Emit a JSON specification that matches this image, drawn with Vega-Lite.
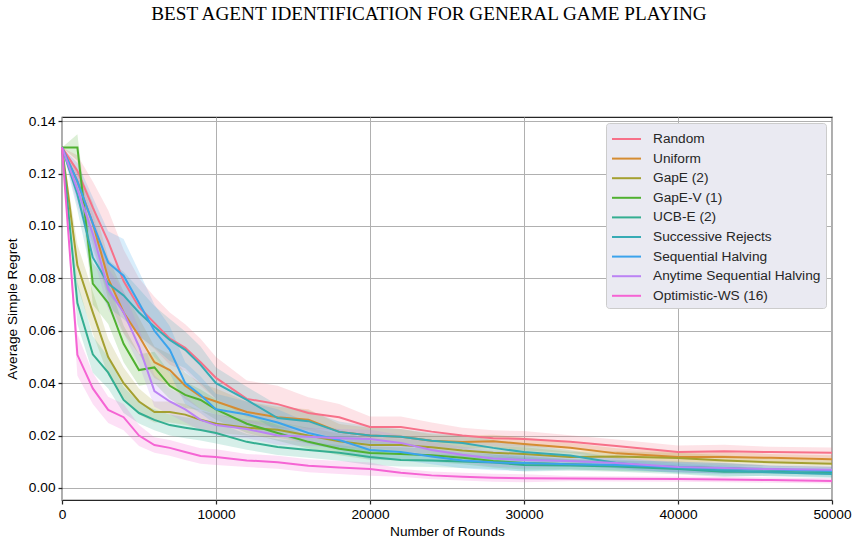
{
"$schema": "https://vega.github.io/schema/vega-lite/v6.json",
"width": 770, "height": 383,
"autosize": {"type": "none"},
"padding": {"left": 62, "top": 117, "right": 26, "bottom": 45},
"background": "white",
"title": {"text": "BEST AGENT IDENTIFICATION FOR GENERAL GAME PLAYING", "anchor": "middle", "offset": 90, "dx": -18, "font": "Liberation Serif", "fontSize": 19.2, "fontWeight": "normal", "color": "#000000"},
"config": {
  "view": {"stroke": "#262626", "strokeWidth": 1.25},
  "axis": {"labelFont": "Liberation Sans", "labelFontSize": 13.7, "labelColor": "#000000", "titleFont": "Liberation Sans", "titleFontSize": 13.7, "titleFontWeight": "normal", "titleColor": "#000000", "domain": false, "tickColor": "#262626", "tickSize": 4, "tickWidth": 1.25, "gridColor": "#b0b0b0", "gridWidth": 1, "gridOpacity": 1, "labelFlush": false, "labelOverlap": false, "labelPadding": 3},
  "legend": {"labelFont": "Liberation Sans", "labelFontSize": 13.7, "labelColor": "#262626", "labelLimit": 300}
},
"datasets": {"d": [
{"agent":"Random","rounds":0,"regret":0.130,"lo":0.130,"hi":0.130},
{"agent":"Random","rounds":1000,"regret":0.121,"lo":0.115,"hi":0.127},
{"agent":"Random","rounds":2000,"regret":0.107,"lo":0.097,"hi":0.117},
{"agent":"Random","rounds":3000,"regret":0.094,"lo":0.082,"hi":0.106},
{"agent":"Random","rounds":4000,"regret":0.079,"lo":0.067,"hi":0.091},
{"agent":"Random","rounds":5000,"regret":0.069,"lo":0.058,"hi":0.080},
{"agent":"Random","rounds":6000,"regret":0.063,"lo":0.053,"hi":0.073},
{"agent":"Random","rounds":7000,"regret":0.057,"lo":0.047,"hi":0.067},
{"agent":"Random","rounds":8000,"regret":0.0535,"lo":0.0445,"hi":0.0625},
{"agent":"Random","rounds":9000,"regret":0.048,"lo":0.039,"hi":0.057},
{"agent":"Random","rounds":10000,"regret":0.042,"lo":0.034,"hi":0.050},
{"agent":"Random","rounds":12000,"regret":0.034,"lo":0.027,"hi":0.041},
{"agent":"Random","rounds":14000,"regret":0.032,"lo":0.025,"hi":0.039},
{"agent":"Random","rounds":16000,"regret":0.0286,"lo":0.0226,"hi":0.0346},
{"agent":"Random","rounds":18000,"regret":0.027,"lo":0.022,"hi":0.032},
{"agent":"Random","rounds":20000,"regret":0.0233,"lo":0.0193,"hi":0.0273},
{"agent":"Random","rounds":22000,"regret":0.0233,"lo":0.0193,"hi":0.0273},
{"agent":"Random","rounds":24000,"regret":0.0215,"lo":0.018,"hi":0.025},
{"agent":"Random","rounds":26000,"regret":0.020,"lo":0.017,"hi":0.023},
{"agent":"Random","rounds":28000,"regret":0.019,"lo":0.016,"hi":0.022},
{"agent":"Random","rounds":30000,"regret":0.0187,"lo":0.0157,"hi":0.0217},
{"agent":"Random","rounds":33000,"regret":0.0176,"lo":0.0151,"hi":0.0201},
{"agent":"Random","rounds":36000,"regret":0.016,"lo":0.0135,"hi":0.0185},
{"agent":"Random","rounds":40000,"regret":0.0137,"lo":0.0112,"hi":0.0162},
{"agent":"Random","rounds":43000,"regret":0.014,"lo":0.0115,"hi":0.0165},
{"agent":"Random","rounds":46000,"regret":0.0137,"lo":0.0117,"hi":0.0157},
{"agent":"Random","rounds":50000,"regret":0.0134,"lo":0.0114,"hi":0.0154},
{"agent":"Uniform","rounds":0,"regret":0.130,"lo":0.130,"hi":0.130},
{"agent":"Uniform","rounds":1000,"regret":0.117,"lo":0.112,"hi":0.122},
{"agent":"Uniform","rounds":2000,"regret":0.101,"lo":0.093,"hi":0.109},
{"agent":"Uniform","rounds":3000,"regret":0.080,"lo":0.072,"hi":0.088},
{"agent":"Uniform","rounds":4000,"regret":0.067,"lo":0.059,"hi":0.075},
{"agent":"Uniform","rounds":5000,"regret":0.058,"lo":0.051,"hi":0.065},
{"agent":"Uniform","rounds":6000,"regret":0.048,"lo":0.042,"hi":0.054},
{"agent":"Uniform","rounds":7000,"regret":0.045,"lo":0.039,"hi":0.051},
{"agent":"Uniform","rounds":8000,"regret":0.039,"lo":0.034,"hi":0.044},
{"agent":"Uniform","rounds":9000,"regret":0.035,"lo":0.030,"hi":0.040},
{"agent":"Uniform","rounds":10000,"regret":0.033,"lo":0.028,"hi":0.038},
{"agent":"Uniform","rounds":12000,"regret":0.029,"lo":0.025,"hi":0.033},
{"agent":"Uniform","rounds":14000,"regret":0.027,"lo":0.023,"hi":0.031},
{"agent":"Uniform","rounds":16000,"regret":0.026,"lo":0.022,"hi":0.030},
{"agent":"Uniform","rounds":18000,"regret":0.0214,"lo":0.0184,"hi":0.0244},
{"agent":"Uniform","rounds":20000,"regret":0.020,"lo":0.017,"hi":0.023},
{"agent":"Uniform","rounds":22000,"regret":0.0195,"lo":0.0165,"hi":0.0225},
{"agent":"Uniform","rounds":24000,"regret":0.018,"lo":0.0155,"hi":0.0205},
{"agent":"Uniform","rounds":26000,"regret":0.0175,"lo":0.015,"hi":0.020},
{"agent":"Uniform","rounds":28000,"regret":0.0178,"lo":0.0153,"hi":0.0203},
{"agent":"Uniform","rounds":30000,"regret":0.0168,"lo":0.0143,"hi":0.0193},
{"agent":"Uniform","rounds":33000,"regret":0.0153,"lo":0.0133,"hi":0.0173},
{"agent":"Uniform","rounds":36000,"regret":0.0132,"lo":0.0112,"hi":0.0152},
{"agent":"Uniform","rounds":40000,"regret":0.0118,"lo":0.0098,"hi":0.0138},
{"agent":"Uniform","rounds":43000,"regret":0.0118,"lo":0.0098,"hi":0.0138},
{"agent":"Uniform","rounds":46000,"regret":0.0115,"lo":0.010,"hi":0.013},
{"agent":"Uniform","rounds":50000,"regret":0.011,"lo":0.0095,"hi":0.0125},
{"agent":"GapE (2)","rounds":0,"regret":0.130,"lo":0.130,"hi":0.130},
{"agent":"GapE (2)","rounds":1000,"regret":0.085,"lo":0.077,"hi":0.093},
{"agent":"GapE (2)","rounds":2000,"regret":0.067,"lo":0.059,"hi":0.075},
{"agent":"GapE (2)","rounds":3000,"regret":0.050,"lo":0.043,"hi":0.057},
{"agent":"GapE (2)","rounds":4000,"regret":0.040,"lo":0.034,"hi":0.046},
{"agent":"GapE (2)","rounds":5000,"regret":0.033,"lo":0.028,"hi":0.038},
{"agent":"GapE (2)","rounds":6000,"regret":0.029,"lo":0.025,"hi":0.033},
{"agent":"GapE (2)","rounds":7000,"regret":0.029,"lo":0.025,"hi":0.033},
{"agent":"GapE (2)","rounds":8000,"regret":0.028,"lo":0.024,"hi":0.032},
{"agent":"GapE (2)","rounds":9000,"regret":0.026,"lo":0.0225,"hi":0.0295},
{"agent":"GapE (2)","rounds":10000,"regret":0.0245,"lo":0.021,"hi":0.028},
{"agent":"GapE (2)","rounds":12000,"regret":0.023,"lo":0.020,"hi":0.026},
{"agent":"GapE (2)","rounds":14000,"regret":0.0222,"lo":0.0192,"hi":0.0252},
{"agent":"GapE (2)","rounds":16000,"regret":0.020,"lo":0.017,"hi":0.023},
{"agent":"GapE (2)","rounds":18000,"regret":0.0178,"lo":0.0148,"hi":0.0208},
{"agent":"GapE (2)","rounds":20000,"regret":0.0164,"lo":0.0134,"hi":0.0194},
{"agent":"GapE (2)","rounds":22000,"regret":0.0164,"lo":0.0139,"hi":0.0189},
{"agent":"GapE (2)","rounds":24000,"regret":0.0155,"lo":0.013,"hi":0.018},
{"agent":"GapE (2)","rounds":26000,"regret":0.0143,"lo":0.0118,"hi":0.0168},
{"agent":"GapE (2)","rounds":28000,"regret":0.0134,"lo":0.0109,"hi":0.0159},
{"agent":"GapE (2)","rounds":30000,"regret":0.013,"lo":0.0105,"hi":0.0155},
{"agent":"GapE (2)","rounds":33000,"regret":0.0118,"lo":0.0098,"hi":0.0138},
{"agent":"GapE (2)","rounds":36000,"regret":0.012,"lo":0.010,"hi":0.014},
{"agent":"GapE (2)","rounds":40000,"regret":0.0114,"lo":0.0094,"hi":0.0134},
{"agent":"GapE (2)","rounds":43000,"regret":0.0105,"lo":0.0085,"hi":0.0125},
{"agent":"GapE (2)","rounds":46000,"regret":0.0098,"lo":0.0083,"hi":0.0113},
{"agent":"GapE (2)","rounds":50000,"regret":0.0092,"lo":0.0077,"hi":0.0107},
{"agent":"GapE-V (1)","rounds":0,"regret":0.130,"lo":0.130,"hi":0.130},
{"agent":"GapE-V (1)","rounds":1000,"regret":0.130,"lo":0.125,"hi":0.135},
{"agent":"GapE-V (1)","rounds":2000,"regret":0.078,"lo":0.070,"hi":0.086},
{"agent":"GapE-V (1)","rounds":3000,"regret":0.0706,"lo":0.0626,"hi":0.0786},
{"agent":"GapE-V (1)","rounds":4000,"regret":0.055,"lo":0.048,"hi":0.062},
{"agent":"GapE-V (1)","rounds":5000,"regret":0.045,"lo":0.039,"hi":0.051},
{"agent":"GapE-V (1)","rounds":6000,"regret":0.046,"lo":0.040,"hi":0.052},
{"agent":"GapE-V (1)","rounds":7000,"regret":0.039,"lo":0.034,"hi":0.044},
{"agent":"GapE-V (1)","rounds":8000,"regret":0.0355,"lo":0.0305,"hi":0.0405},
{"agent":"GapE-V (1)","rounds":9000,"regret":0.0336,"lo":0.0296,"hi":0.0376},
{"agent":"GapE-V (1)","rounds":10000,"regret":0.030,"lo":0.026,"hi":0.034},
{"agent":"GapE-V (1)","rounds":12000,"regret":0.0245,"lo":0.021,"hi":0.028},
{"agent":"GapE-V (1)","rounds":14000,"regret":0.021,"lo":0.018,"hi":0.024},
{"agent":"GapE-V (1)","rounds":16000,"regret":0.0176,"lo":0.0151,"hi":0.0201},
{"agent":"GapE-V (1)","rounds":18000,"regret":0.015,"lo":0.0125,"hi":0.0175},
{"agent":"GapE-V (1)","rounds":20000,"regret":0.0133,"lo":0.0108,"hi":0.0158},
{"agent":"GapE-V (1)","rounds":22000,"regret":0.013,"lo":0.0105,"hi":0.0155},
{"agent":"GapE-V (1)","rounds":24000,"regret":0.0125,"lo":0.010,"hi":0.015},
{"agent":"GapE-V (1)","rounds":26000,"regret":0.0115,"lo":0.009,"hi":0.014},
{"agent":"GapE-V (1)","rounds":28000,"regret":0.0103,"lo":0.0078,"hi":0.0128},
{"agent":"GapE-V (1)","rounds":30000,"regret":0.0095,"lo":0.007,"hi":0.012},
{"agent":"GapE-V (1)","rounds":33000,"regret":0.009,"lo":0.007,"hi":0.011},
{"agent":"GapE-V (1)","rounds":36000,"regret":0.0085,"lo":0.0065,"hi":0.0105},
{"agent":"GapE-V (1)","rounds":40000,"regret":0.008,"lo":0.006,"hi":0.010},
{"agent":"GapE-V (1)","rounds":43000,"regret":0.0075,"lo":0.0055,"hi":0.0095},
{"agent":"GapE-V (1)","rounds":46000,"regret":0.007,"lo":0.0055,"hi":0.0085},
{"agent":"GapE-V (1)","rounds":50000,"regret":0.0065,"lo":0.005,"hi":0.008},
{"agent":"UCB-E (2)","rounds":0,"regret":0.130,"lo":0.130,"hi":0.130},
{"agent":"UCB-E (2)","rounds":1000,"regret":0.0706,"lo":0.0626,"hi":0.0786},
{"agent":"UCB-E (2)","rounds":2000,"regret":0.051,"lo":0.044,"hi":0.058},
{"agent":"UCB-E (2)","rounds":3000,"regret":0.044,"lo":0.038,"hi":0.050},
{"agent":"UCB-E (2)","rounds":4000,"regret":0.0336,"lo":0.0286,"hi":0.0386},
{"agent":"UCB-E (2)","rounds":5000,"regret":0.0286,"lo":0.0246,"hi":0.0326},
{"agent":"UCB-E (2)","rounds":6000,"regret":0.026,"lo":0.022,"hi":0.030},
{"agent":"UCB-E (2)","rounds":7000,"regret":0.024,"lo":0.020,"hi":0.028},
{"agent":"UCB-E (2)","rounds":8000,"regret":0.023,"lo":0.019,"hi":0.027},
{"agent":"UCB-E (2)","rounds":9000,"regret":0.0221,"lo":0.0181,"hi":0.0261},
{"agent":"UCB-E (2)","rounds":10000,"regret":0.021,"lo":0.017,"hi":0.025},
{"agent":"UCB-E (2)","rounds":12000,"regret":0.0176,"lo":0.0146,"hi":0.0206},
{"agent":"UCB-E (2)","rounds":14000,"regret":0.0156,"lo":0.0126,"hi":0.0186},
{"agent":"UCB-E (2)","rounds":16000,"regret":0.0145,"lo":0.0115,"hi":0.0175},
{"agent":"UCB-E (2)","rounds":18000,"regret":0.0134,"lo":0.0104,"hi":0.0164},
{"agent":"UCB-E (2)","rounds":20000,"regret":0.0118,"lo":0.0088,"hi":0.0148},
{"agent":"UCB-E (2)","rounds":22000,"regret":0.0107,"lo":0.0082,"hi":0.0132},
{"agent":"UCB-E (2)","rounds":24000,"regret":0.0105,"lo":0.008,"hi":0.013},
{"agent":"UCB-E (2)","rounds":26000,"regret":0.0101,"lo":0.0076,"hi":0.0126},
{"agent":"UCB-E (2)","rounds":28000,"regret":0.0097,"lo":0.0072,"hi":0.0122},
{"agent":"UCB-E (2)","rounds":30000,"regret":0.0088,"lo":0.0063,"hi":0.0113},
{"agent":"UCB-E (2)","rounds":33000,"regret":0.0086,"lo":0.0066,"hi":0.0106},
{"agent":"UCB-E (2)","rounds":36000,"regret":0.0082,"lo":0.0062,"hi":0.0102},
{"agent":"UCB-E (2)","rounds":40000,"regret":0.0072,"lo":0.0052,"hi":0.0092},
{"agent":"UCB-E (2)","rounds":43000,"regret":0.0062,"lo":0.0042,"hi":0.0082},
{"agent":"UCB-E (2)","rounds":46000,"regret":0.0062,"lo":0.0047,"hi":0.0077},
{"agent":"UCB-E (2)","rounds":50000,"regret":0.0057,"lo":0.0042,"hi":0.0072},
{"agent":"Successive Rejects","rounds":0,"regret":0.130,"lo":0.130,"hi":0.130},
{"agent":"Successive Rejects","rounds":1000,"regret":0.112,"lo":0.106,"hi":0.118},
{"agent":"Successive Rejects","rounds":2000,"regret":0.088,"lo":0.079,"hi":0.097},
{"agent":"Successive Rejects","rounds":3000,"regret":0.078,"lo":0.069,"hi":0.087},
{"agent":"Successive Rejects","rounds":4000,"regret":0.0735,"lo":0.0645,"hi":0.0825},
{"agent":"Successive Rejects","rounds":5000,"regret":0.067,"lo":0.058,"hi":0.076},
{"agent":"Successive Rejects","rounds":6000,"regret":0.0615,"lo":0.0535,"hi":0.0695},
{"agent":"Successive Rejects","rounds":7000,"regret":0.0565,"lo":0.0485,"hi":0.0645},
{"agent":"Successive Rejects","rounds":8000,"regret":0.0527,"lo":0.0457,"hi":0.0597},
{"agent":"Successive Rejects","rounds":9000,"regret":0.047,"lo":0.040,"hi":0.054},
{"agent":"Successive Rejects","rounds":10000,"regret":0.040,"lo":0.034,"hi":0.046},
{"agent":"Successive Rejects","rounds":12000,"regret":0.0336,"lo":0.0286,"hi":0.0386},
{"agent":"Successive Rejects","rounds":14000,"regret":0.0267,"lo":0.0217,"hi":0.0317},
{"agent":"Successive Rejects","rounds":16000,"regret":0.0255,"lo":0.0215,"hi":0.0295},
{"agent":"Successive Rejects","rounds":18000,"regret":0.0214,"lo":0.0174,"hi":0.0254},
{"agent":"Successive Rejects","rounds":20000,"regret":0.020,"lo":0.0165,"hi":0.0235},
{"agent":"Successive Rejects","rounds":22000,"regret":0.0195,"lo":0.0165,"hi":0.0225},
{"agent":"Successive Rejects","rounds":24000,"regret":0.018,"lo":0.015,"hi":0.021},
{"agent":"Successive Rejects","rounds":26000,"regret":0.0172,"lo":0.0142,"hi":0.0202},
{"agent":"Successive Rejects","rounds":28000,"regret":0.0153,"lo":0.0123,"hi":0.0183},
{"agent":"Successive Rejects","rounds":30000,"regret":0.0137,"lo":0.0107,"hi":0.0167},
{"agent":"Successive Rejects","rounds":33000,"regret":0.0124,"lo":0.0104,"hi":0.0144},
{"agent":"Successive Rejects","rounds":36000,"regret":0.0095,"lo":0.0075,"hi":0.0115},
{"agent":"Successive Rejects","rounds":40000,"regret":0.0075,"lo":0.0055,"hi":0.0095},
{"agent":"Successive Rejects","rounds":43000,"regret":0.0067,"lo":0.0047,"hi":0.0087},
{"agent":"Successive Rejects","rounds":46000,"regret":0.006,"lo":0.0045,"hi":0.0075},
{"agent":"Successive Rejects","rounds":50000,"regret":0.0053,"lo":0.0038,"hi":0.0068},
{"agent":"Sequential Halving","rounds":0,"regret":0.130,"lo":0.130,"hi":0.130},
{"agent":"Sequential Halving","rounds":1000,"regret":0.117,"lo":0.110,"hi":0.124},
{"agent":"Sequential Halving","rounds":2000,"regret":0.101,"lo":0.091,"hi":0.111},
{"agent":"Sequential Halving","rounds":3000,"regret":0.086,"lo":0.074,"hi":0.098},
{"agent":"Sequential Halving","rounds":4000,"regret":0.081,"lo":0.067,"hi":0.095},
{"agent":"Sequential Halving","rounds":5000,"regret":0.0706,"lo":0.0586,"hi":0.0826},
{"agent":"Sequential Halving","rounds":6000,"regret":0.060,"lo":0.050,"hi":0.070},
{"agent":"Sequential Halving","rounds":7000,"regret":0.0527,"lo":0.0437,"hi":0.0617},
{"agent":"Sequential Halving","rounds":8000,"regret":0.040,"lo":0.032,"hi":0.048},
{"agent":"Sequential Halving","rounds":9000,"regret":0.0355,"lo":0.0285,"hi":0.0425},
{"agent":"Sequential Halving","rounds":10000,"regret":0.030,"lo":0.024,"hi":0.036},
{"agent":"Sequential Halving","rounds":12000,"regret":0.028,"lo":0.023,"hi":0.033},
{"agent":"Sequential Halving","rounds":14000,"regret":0.025,"lo":0.020,"hi":0.030},
{"agent":"Sequential Halving","rounds":16000,"regret":0.021,"lo":0.017,"hi":0.025},
{"agent":"Sequential Halving","rounds":18000,"regret":0.0183,"lo":0.0143,"hi":0.0223},
{"agent":"Sequential Halving","rounds":20000,"regret":0.0145,"lo":0.011,"hi":0.018},
{"agent":"Sequential Halving","rounds":22000,"regret":0.0137,"lo":0.0107,"hi":0.0167},
{"agent":"Sequential Halving","rounds":24000,"regret":0.012,"lo":0.009,"hi":0.015},
{"agent":"Sequential Halving","rounds":26000,"regret":0.0105,"lo":0.0075,"hi":0.0135},
{"agent":"Sequential Halving","rounds":28000,"regret":0.0098,"lo":0.0068,"hi":0.0128},
{"agent":"Sequential Halving","rounds":30000,"regret":0.0095,"lo":0.0065,"hi":0.0125},
{"agent":"Sequential Halving","rounds":33000,"regret":0.009,"lo":0.007,"hi":0.011},
{"agent":"Sequential Halving","rounds":36000,"regret":0.0088,"lo":0.0068,"hi":0.0108},
{"agent":"Sequential Halving","rounds":40000,"regret":0.008,"lo":0.006,"hi":0.010},
{"agent":"Sequential Halving","rounds":43000,"regret":0.0074,"lo":0.0054,"hi":0.0094},
{"agent":"Sequential Halving","rounds":46000,"regret":0.007,"lo":0.0055,"hi":0.0085},
{"agent":"Sequential Halving","rounds":50000,"regret":0.0065,"lo":0.005,"hi":0.008},
{"agent":"Anytime Sequential Halving","rounds":0,"regret":0.130,"lo":0.130,"hi":0.130},
{"agent":"Anytime Sequential Halving","rounds":1000,"regret":0.114,"lo":0.108,"hi":0.120},
{"agent":"Anytime Sequential Halving","rounds":2000,"regret":0.097,"lo":0.089,"hi":0.105},
{"agent":"Anytime Sequential Halving","rounds":3000,"regret":0.076,"lo":0.068,"hi":0.084},
{"agent":"Anytime Sequential Halving","rounds":4000,"regret":0.067,"lo":0.059,"hi":0.075},
{"agent":"Anytime Sequential Halving","rounds":5000,"regret":0.054,"lo":0.047,"hi":0.061},
{"agent":"Anytime Sequential Halving","rounds":6000,"regret":0.037,"lo":0.031,"hi":0.043},
{"agent":"Anytime Sequential Halving","rounds":7000,"regret":0.033,"lo":0.028,"hi":0.038},
{"agent":"Anytime Sequential Halving","rounds":8000,"regret":0.030,"lo":0.025,"hi":0.035},
{"agent":"Anytime Sequential Halving","rounds":9000,"regret":0.026,"lo":0.022,"hi":0.030},
{"agent":"Anytime Sequential Halving","rounds":10000,"regret":0.024,"lo":0.020,"hi":0.028},
{"agent":"Anytime Sequential Halving","rounds":12000,"regret":0.0225,"lo":0.019,"hi":0.026},
{"agent":"Anytime Sequential Halving","rounds":14000,"regret":0.020,"lo":0.0165,"hi":0.0235},
{"agent":"Anytime Sequential Halving","rounds":16000,"regret":0.0195,"lo":0.016,"hi":0.023},
{"agent":"Anytime Sequential Halving","rounds":18000,"regret":0.019,"lo":0.0155,"hi":0.0225},
{"agent":"Anytime Sequential Halving","rounds":20000,"regret":0.0187,"lo":0.0152,"hi":0.0222},
{"agent":"Anytime Sequential Halving","rounds":22000,"regret":0.0172,"lo":0.0142,"hi":0.0202},
{"agent":"Anytime Sequential Halving","rounds":24000,"regret":0.0145,"lo":0.0115,"hi":0.0175},
{"agent":"Anytime Sequential Halving","rounds":26000,"regret":0.0127,"lo":0.0097,"hi":0.0157},
{"agent":"Anytime Sequential Halving","rounds":28000,"regret":0.0112,"lo":0.0082,"hi":0.0142},
{"agent":"Anytime Sequential Halving","rounds":30000,"regret":0.0107,"lo":0.0077,"hi":0.0137},
{"agent":"Anytime Sequential Halving","rounds":33000,"regret":0.0103,"lo":0.0083,"hi":0.0123},
{"agent":"Anytime Sequential Halving","rounds":36000,"regret":0.0095,"lo":0.0075,"hi":0.0115},
{"agent":"Anytime Sequential Halving","rounds":40000,"regret":0.008,"lo":0.006,"hi":0.010},
{"agent":"Anytime Sequential Halving","rounds":43000,"regret":0.0076,"lo":0.0056,"hi":0.0096},
{"agent":"Anytime Sequential Halving","rounds":46000,"regret":0.0072,"lo":0.0057,"hi":0.0087},
{"agent":"Anytime Sequential Halving","rounds":50000,"regret":0.0069,"lo":0.0054,"hi":0.0084},
{"agent":"Optimistic-WS (16)","rounds":0,"regret":0.130,"lo":0.130,"hi":0.130},
{"agent":"Optimistic-WS (16)","rounds":1000,"regret":0.0508,"lo":0.0428,"hi":0.0588},
{"agent":"Optimistic-WS (16)","rounds":2000,"regret":0.038,"lo":0.032,"hi":0.044},
{"agent":"Optimistic-WS (16)","rounds":3000,"regret":0.0298,"lo":0.0248,"hi":0.0348},
{"agent":"Optimistic-WS (16)","rounds":4000,"regret":0.027,"lo":0.022,"hi":0.032},
{"agent":"Optimistic-WS (16)","rounds":5000,"regret":0.020,"lo":0.016,"hi":0.024},
{"agent":"Optimistic-WS (16)","rounds":6000,"regret":0.0164,"lo":0.0134,"hi":0.0194},
{"agent":"Optimistic-WS (16)","rounds":7000,"regret":0.0153,"lo":0.0123,"hi":0.0183},
{"agent":"Optimistic-WS (16)","rounds":8000,"regret":0.0137,"lo":0.0107,"hi":0.0167},
{"agent":"Optimistic-WS (16)","rounds":9000,"regret":0.0122,"lo":0.0092,"hi":0.0152},
{"agent":"Optimistic-WS (16)","rounds":10000,"regret":0.0118,"lo":0.0088,"hi":0.0148},
{"agent":"Optimistic-WS (16)","rounds":12000,"regret":0.0105,"lo":0.008,"hi":0.013},
{"agent":"Optimistic-WS (16)","rounds":14000,"regret":0.0098,"lo":0.0073,"hi":0.0123},
{"agent":"Optimistic-WS (16)","rounds":16000,"regret":0.0085,"lo":0.006,"hi":0.011},
{"agent":"Optimistic-WS (16)","rounds":18000,"regret":0.0078,"lo":0.0053,"hi":0.0103},
{"agent":"Optimistic-WS (16)","rounds":20000,"regret":0.0072,"lo":0.0047,"hi":0.0097},
{"agent":"Optimistic-WS (16)","rounds":22000,"regret":0.0058,"lo":0.0043,"hi":0.0073},
{"agent":"Optimistic-WS (16)","rounds":24000,"regret":0.0048,"lo":0.0033,"hi":0.0063},
{"agent":"Optimistic-WS (16)","rounds":26000,"regret":0.0043,"lo":0.0028,"hi":0.0058},
{"agent":"Optimistic-WS (16)","rounds":28000,"regret":0.0039,"lo":0.0024,"hi":0.0054},
{"agent":"Optimistic-WS (16)","rounds":30000,"regret":0.0037,"lo":0.0022,"hi":0.0052},
{"agent":"Optimistic-WS (16)","rounds":33000,"regret":0.0036,"lo":0.0026,"hi":0.0046},
{"agent":"Optimistic-WS (16)","rounds":36000,"regret":0.0035,"lo":0.0025,"hi":0.0045},
{"agent":"Optimistic-WS (16)","rounds":40000,"regret":0.0034,"lo":0.0024,"hi":0.0044},
{"agent":"Optimistic-WS (16)","rounds":43000,"regret":0.0032,"lo":0.0022,"hi":0.0042},
{"agent":"Optimistic-WS (16)","rounds":46000,"regret":0.003,"lo":0.002,"hi":0.004},
{"agent":"Optimistic-WS (16)","rounds":50000,"regret":0.0027,"lo":0.0017,"hi":0.0037}
]},
"data": {"name": "d"},
"encoding": {
  "x": {"field": "rounds", "type": "quantitative", "scale": {"domain": [0, 50000], "nice": false}, "axis": {"title": "Number of Rounds", "values": [0, 10000, 20000, 30000, 40000, 50000], "format": "d", "titlePadding": 4}}
},
"resolve": {"scale": {"color": "independent"}, "legend": {"color": "independent"}},
"layer": [
  {"mark": {"type": "area", "opacity": 0.2, "interpolate": "linear"},
   "encoding": {
     "y": {"field": "lo", "type": "quantitative", "scale": {"domain": [-0.0046, 0.1416], "nice": false, "zero": false}, "axis": {"title": "Average Simple Regret", "values": [0, 0.02, 0.04, 0.06, 0.08, 0.1, 0.12, 0.14], "format": ".2f", "titlePadding": 9}},
     "y2": {"field": "hi"},
     "color": {"field": "agent", "type": "nominal", "legend": null, "scale": {"domain": ["Random","Uniform","GapE (2)","GapE-V (1)","UCB-E (2)","Successive Rejects","Sequential Halving","Anytime Sequential Halving","Optimistic-WS (16)"], "range": ["#f77189","#d58c32","#a4a031","#50b131","#34ae91","#37abb5","#3ba3ec","#bb83f4","#f564d4"]}}
   }},
  {"mark": {"type": "line", "strokeWidth": 2},
   "encoding": {
     "y": {"field": "regret", "type": "quantitative"},
     "color": {"field": "agent", "type": "nominal", "scale": {"domain": ["Random","Uniform","GapE (2)","GapE-V (1)","UCB-E (2)","Successive Rejects","Sequential Halving","Anytime Sequential Halving","Optimistic-WS (16)"], "range": ["#f77189","#d58c32","#a4a031","#50b131","#34ae91","#37abb5","#3ba3ec","#bb83f4","#f564d4"]},
       "legend": {"title": null, "orient": "top-right", "offset": 6, "fillColor": "#eaeaf2", "strokeColor": "#cccccc", "cornerRadius": 3, "padding": 5, "symbolType": "M-1,0H1.9", "symbolStrokeWidth": 2, "symbolSize": 400, "rowPadding": 1.6, "labelOffset": 20}}
   }}
]
}
